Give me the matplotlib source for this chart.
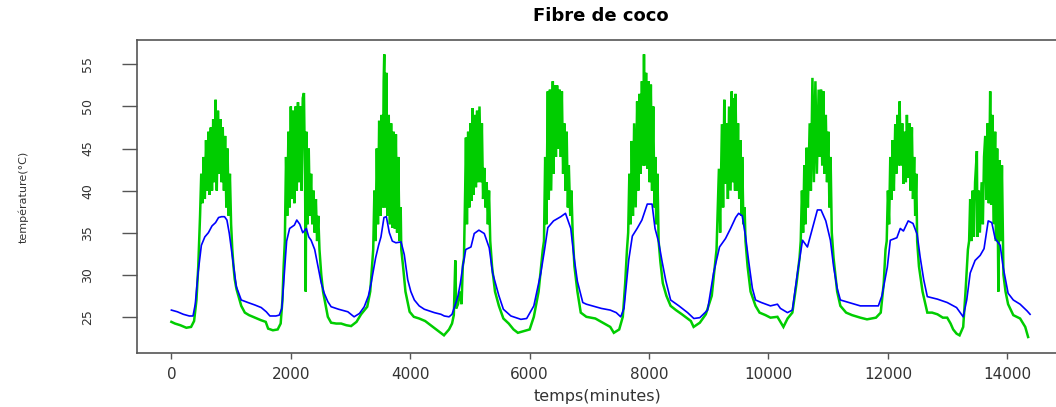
import numpy as np
import matplotlib
matplotlib.use('Agg')
import matplotlib.pyplot as plt

plt.rcParams['font.family'] = ['DejaVu Sans']

# blue sensor (minutes, degC)
blue_t = [0, 100, 200, 300, 362, 400, 446, 502, 560, 620, 680, 740, 790, 840, 890, 930, 970, 1030, 1087, 1170,
          1282, 1400, 1505, 1589, 1650, 1750, 1806, 1850, 1870, 1900,
          1930, 1980, 2060, 2100, 2150, 2200, 2260, 2300, 2340, 2400, 2455, 2510, 2560, 2620, 2675, 2800, 2955,
          3060, 3150, 3230, 3300, 3345, 3420, 3470, 3510, 3560, 3600,
          3650, 3700, 3760, 3846, 3900, 3958, 4010, 4069, 4150, 4236, 4403, 4515, 4570, 4650, 4700, 4766, 4800,
          4840, 4880, 4930,
          5017, 5072, 5150, 5240, 5323, 5380, 5485, 5560, 5686, 5853, 5950, 6070, 6187, 6250, 6304, 6400, 6522,
          6600, 6689, 6739, 6800, 6890,
          6950, 7050, 7200, 7350, 7450, 7525, 7580, 7660, 7720, 7800, 7880, 7970, 8050, 8100, 8160, 8220, 8280,
          8361, 8500, 8645, 8750, 8850, 8980,
          9080, 9180, 9280, 9365, 9450, 9500, 9560, 9615, 9670, 9730, 9783, 9880, 10033, 10150, 10200, 10318, 10400,
          10485, 10570, 10652, 10736, 10819, 10880, 10960, 11037, 11090, 11150, 11204, 11350, 11538, 11700, 11840,
          11900,
          11990, 12040, 12150, 12207, 12260, 12340, 12420, 12490, 12540, 12600, 12660, 12830, 12993, 13150, 13261,
          13320,
          13378, 13460, 13545, 13610, 13680, 13740, 13796, 13880, 13930, 14013, 14100, 14214, 14331, 14381]
blue_v = [25.8, 25.6, 25.3, 25.1, 25.1, 26.5, 30.2, 33.5, 34.5, 35.0, 35.8, 36.2, 36.8, 36.9, 36.9, 36.5, 34.9, 31.7, 28.6, 27.0,
          26.7, 26.4, 26.1, 25.6, 25.1, 25.1, 25.2, 26.0, 28.0, 31.0,
          34.0, 35.5, 35.9, 36.5, 36.0, 35.0, 35.5, 34.5, 34.1, 33.0, 31.0, 29.0, 27.8, 26.8, 26.2, 25.9, 25.6,
          25.0, 25.4, 26.2, 27.5, 29.0, 32.0, 33.5, 34.5, 36.8, 36.9,
          35.0, 34.0, 33.8, 33.9, 32.4, 29.4, 28.0, 27.0, 26.3, 25.9, 25.5, 25.3, 25.1, 25.0, 25.3, 26.7, 27.5,
          29.0, 31.0, 33.0,
          33.3, 34.9, 35.3, 34.9, 33.2, 30.2, 27.5, 25.9, 25.1, 24.7, 24.8, 26.3, 30.2, 33.0, 35.6, 36.4, 36.9,
          37.3, 35.5, 32.3, 29.2, 26.7,
          26.5, 26.3, 26.0, 25.8, 25.5, 25.0, 26.0, 31.8, 34.6, 35.5, 36.5, 38.4, 38.4, 35.5, 33.9, 31.5, 29.3,
          27.0, 26.3, 25.5, 24.8, 24.9, 25.8,
          30.2, 33.3, 34.3, 35.5, 36.8, 37.3, 37.0, 34.6, 31.5, 28.4, 27.0, 26.7, 26.3, 26.5, 26.0, 25.5, 25.8,
          30.2, 34.1, 33.3, 35.5, 37.7, 37.7, 36.4, 34.1, 31.0, 28.4, 27.0, 26.7, 26.3, 26.3, 26.3,
          27.5,
          30.9, 34.1, 34.4, 35.5, 35.2, 36.4, 36.1, 34.8, 32.1, 29.4, 27.4, 27.1, 26.7, 26.1, 25.0,
          27.0,
          30.2, 31.7, 32.3, 33.1, 36.4, 36.2, 34.3, 33.5, 30.9, 27.8, 27.0, 26.5, 25.7, 25.3]

# green sensor (minutes, degC)
green_t = [0, 60, 150, 250, 330, 380, 420, 450, 470,
           480, 500, 520, 540, 560, 580, 600, 620, 640, 660, 680, 700, 720, 740, 760, 780, 800, 820, 840, 860,
           880, 900, 920, 940, 960, 980, 1000,
           1020, 1040, 1060, 1090, 1130, 1170, 1230, 1300, 1400, 1500, 1580, 1620, 1700, 1780, 1830, 1860, 1880,
           1900, 1920, 1940, 1960, 1980, 2000, 2020, 2040, 2060, 2080, 2100, 2120, 2140, 2160, 2180, 2200, 2220,
           2240, 2250, 2260, 2280, 2300, 2320, 2340, 2360, 2380, 2400, 2420, 2440, 2460, 2480,
           2510, 2540, 2580, 2620, 2675, 2760, 2843, 2930, 3010, 3100, 3177, 3280, 3330, 3360,
           3380, 3400, 3420, 3440, 3460, 3480, 3500, 3520, 3540, 3555, 3565, 3580, 3600, 3620, 3640, 3660, 3680,
           3700, 3720, 3740, 3760, 3780, 3800, 3820, 3840, 3850,
           3880, 3920, 3990, 4060, 4150, 4250, 4380, 4470, 4565, 4650, 4700, 4730, 4755, 4770, 4800, 4830, 4860,
           4880,
           4900, 4920, 4933, 4950, 4970, 4990, 5010, 5030, 5045, 5060, 5080, 5100, 5120, 5140, 5160, 5184, 5200,
           5220, 5240, 5260, 5280, 5300, 5320, 5340,
           5370, 5420, 5485, 5560, 5650, 5730, 5803, 5900, 6000, 6070, 6150, 6220,
           6240, 6260, 6280, 6304, 6320, 6340, 6360, 6388, 6400, 6420, 6440, 6460, 6480, 6500, 6522, 6540, 6560,
           6580, 6600, 6620, 6640, 6656, 6680, 6700, 6720,
           6750, 6800, 6856, 6950, 7100, 7250, 7350, 7410, 7500, 7560, 7600, 7630,
           7650, 7670, 7692, 7710, 7730, 7750, 7776, 7800, 7820, 7840, 7860, 7880, 7900, 7915, 7930, 7950, 7970,
           7990, 8010, 8030, 8050, 8070, 8090, 8105, 8120, 8140, 8160,
           8190, 8230, 8290, 8361, 8450, 8550, 8645, 8700, 8746, 8850, 8950, 9050, 9100,
           9130, 9150, 9170, 9190, 9220, 9240, 9260, 9280, 9300, 9320, 9340, 9365, 9385, 9400, 9420, 9440, 9448,
           9470, 9490, 9510, 9530, 9550, 9560, 9580, 9600, 9615,
           9650, 9700, 9783, 9850, 9950, 10033, 10150, 10250, 10320, 10400, 10470, 10520,
           10540, 10560, 10580, 10600, 10619, 10640, 10660, 10690, 10710, 10736, 10760, 10786, 10810, 10840, 10860,
           10880, 10900, 10920, 10940, 10960, 10980, 11003, 11020, 11040, 11060,
           11090, 11150, 11204, 11300, 11400, 11538, 11650, 11800, 11880, 11930, 11960,
           11980, 12000, 12020, 12040, 12060, 12080, 12100, 12123, 12140, 12160, 12180, 12196, 12215, 12240, 12263,
           12280, 12300, 12318, 12340, 12360, 12380, 12402, 12420, 12440, 12457, 12475, 12490,
           12520, 12580, 12660, 12740, 12830, 12920, 12993, 13050, 13093, 13150, 13200, 13261, 13300, 13340,
           13360, 13378, 13400, 13420, 13440, 13460, 13490, 13500, 13520, 13540, 13570, 13590, 13610, 13630, 13650,
           13670, 13690, 13713, 13730, 13750, 13770, 13796, 13810, 13830, 13850, 13870, 13890, 13910, 13935,
           13970, 14013, 14100, 14214, 14300, 14348]
green_v = [24.4, 24.2, 24.0, 23.7, 23.8, 24.5, 27.0, 31.0, 35.0,
           37.0, 42.0, 38.5, 44.0, 39.0, 46.0, 40.0, 47.0, 39.5, 47.5, 40.0, 48.5, 41.0, 50.8, 40.0, 49.5, 42.0, 48.5, 41.0, 47.5,
           40.0, 46.5, 38.0, 45.0, 37.0, 42.0, 36.0,
           33.0, 31.0, 29.5, 28.3, 27.3, 26.3, 25.5, 25.2, 24.9, 24.6, 24.4, 23.6, 23.4, 23.5, 24.2, 27.0, 31.0,
           34.0, 44.0, 37.0, 47.0, 38.0, 50.0, 39.0, 49.5, 38.5, 50.0, 40.0, 50.5, 41.0, 50.0, 40.0, 51.0, 51.6,
           40.0, 28.0, 47.0, 36.0, 45.0, 37.0, 42.0, 36.0, 40.0, 35.0, 39.0, 34.0, 37.0, 33.0,
           30.0, 28.0, 26.5, 25.0, 24.3, 24.2, 24.2, 24.0, 23.9, 24.4, 25.3, 26.2, 28.0, 31.0,
           33.0, 40.0, 34.0, 45.0, 36.0, 48.3, 37.0, 49.0, 38.0, 53.0, 56.2, 38.0, 54.0, 37.0, 49.0, 36.0, 48.0,
           35.6, 47.0, 35.5, 46.7, 35.0, 44.0, 34.0, 38.0, 33.0,
           31.0, 28.0, 25.6, 25.0, 24.8, 24.5, 23.8, 23.3, 22.8, 23.5, 24.2, 25.2, 31.7, 26.0, 26.5, 28.0, 26.5,
           31.0,
           32.0, 40.0, 46.3, 36.0, 47.0, 38.0, 48.0, 38.8, 49.8, 39.5, 49.0, 40.4, 49.5, 41.0, 50.0, 41.0, 48.0,
           39.0, 42.7, 38.0, 41.0, 36.0, 40.0, 34.0,
           31.0, 28.0, 26.3, 24.8, 24.2, 23.5, 23.1, 23.3, 23.5, 25.0, 28.0, 33.0,
           34.0, 44.0, 36.0, 51.8, 38.9, 52.0, 40.0, 53.0, 42.0, 52.5, 44.0, 52.5, 45.0, 52.0, 44.0, 51.8, 42.0,
           48.0, 40.0, 47.0, 38.0, 43.0, 37.0, 40.0, 35.0,
           31.0, 28.0, 25.5, 25.0, 24.8, 24.2, 23.8, 23.1, 23.5, 25.0, 29.0, 33.0,
           35.0, 42.0, 36.0, 45.9, 37.0, 48.0, 38.0, 50.6, 40.0, 51.5, 42.0, 53.0, 43.0, 56.2, 43.0, 54.0, 42.6,
           53.0, 41.0, 52.6, 40.0, 50.0, 38.0, 44.0, 36.0, 42.0, 34.0,
           31.5, 29.0, 27.5, 26.3, 25.8, 25.3, 24.8, 24.5, 23.8, 24.3, 25.3, 27.5, 31.0,
           33.0, 38.0, 42.6, 35.0, 47.9, 38.0, 50.8, 40.8, 48.0, 39.0, 50.0, 40.0, 51.8, 41.0, 51.0, 40.0, 51.5,
           40.0, 48.0, 39.0, 46.0, 37.0, 44.0, 36.0, 38.0, 34.0,
           31.0, 28.0, 26.3, 25.5, 25.2, 24.9, 25.0, 23.8, 24.8, 25.5, 29.0, 32.0,
           34.0, 40.0, 35.0, 43.0, 36.0, 45.1, 38.0, 48.0, 40.0, 53.4, 41.0, 53.0, 42.0, 52.0, 44.0,
           52.0, 43.0, 51.8, 42.0, 49.0, 41.0, 47.0, 38.0, 44.0, 35.0,
           32.0, 28.0, 26.3, 25.5, 25.2, 24.9, 24.7, 24.9, 25.5, 29.0, 33.0,
           34.0, 40.0, 36.0, 44.0, 38.9, 46.0, 40.0, 47.9, 42.0, 49.0, 43.0, 50.6, 43.0, 48.0, 40.8,
           47.0, 41.0, 49.0, 41.5, 48.0, 40.0, 47.5, 39.0, 44.0, 37.0, 42.0, 34.0,
           31.0, 28.0, 25.5, 25.5, 25.3, 24.9, 24.9, 24.2, 23.5, 23.0, 22.8, 23.8, 28.0, 33.0,
           34.0, 39.0, 34.0, 40.0, 34.5, 41.0, 44.7, 34.5, 40.0, 35.0, 41.0, 36.0, 44.0, 46.5, 38.9,
           48.0, 38.5, 51.8, 38.3, 49.0, 36.0, 47.0, 34.0, 45.0, 28.0, 43.6, 34.0, 43.0, 30.0,
           28.0, 26.5, 25.2, 24.8, 23.8, 22.6]

x_ticks = [0, 2000, 4000, 6000, 8000, 10000, 12000, 14000]
y_ticks = [25, 30, 35, 40, 45, 50, 55]

assert len(blue_t) == len(blue_v), (len(blue_t), len(blue_v))
assert len(green_t) == len(green_v), (len(green_t), len(green_v))

fig = plt.figure(figsize=(10.56, 4.07), dpi=100, facecolor='white')
# plot box runs a little past the right edge, as in the reference
ax = fig.add_axes([137 / 1056, 54 / 407, 928.6 / 1056, 313 / 407])

ax.plot(green_t, green_v, color='#00CD00', lw=1.8, solid_joinstyle='miter')
ax.plot(blue_t, blue_v, color='#0000FF', lw=1.2)

ax.set_xlim(-576, 14976)
ax.set_ylim(20.7, 57.9)
ax.set_xticks(x_ticks)
ax.set_xticklabels([str(v) for v in x_ticks])
ax.set_yticks(y_ticks)
ax.set_yticklabels([str(v) for v in y_ticks])

for s in ax.spines.values():
    s.set_color('#555555')
    s.set_linewidth(1.2)

ax.tick_params(axis='y', length=11, width=1, pad=20, labelsize=9,
               colors='#555555', labelcolor='#333333', labelrotation=90)
for lab in ax.get_yticklabels():
    lab.set_va('center')
ax.tick_params(axis='x', length=4, width=1, pad=6, labelsize=11,
               colors='#555555', labelcolor='#333333')

ax.set_title('Fibre de coco', fontsize=13, fontweight='bold', pad=14)
ax.set_xlabel('temps(minutes)', fontsize=11.5, color='#333333')
ax.xaxis.set_label_coords(0.496, -0.14)
ax.xaxis.label.set_va('center')
ax.set_ylabel('température(°C)', fontsize=8, color='#333333')
ax.yaxis.set_label_coords(-0.122, 0.50)
ax.yaxis.label.set_va('center')

fig.savefig('out.png', dpi=100, facecolor='white')
plt.close(fig)
